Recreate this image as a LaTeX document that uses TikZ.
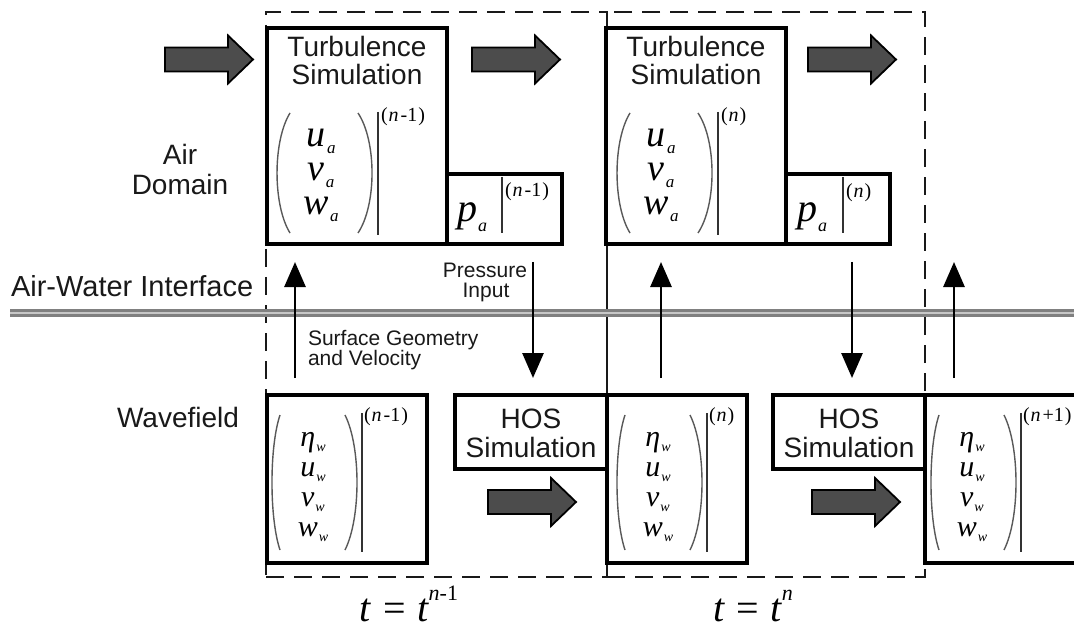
\documentclass[tikz,border=0pt]{standalone}
\usepackage{fontspec}
\setmainfont{Liberation Sans}
\newfontfamily\tms{Liberation Serif}
\usetikzlibrary{arrows.meta}
\newcommand\av[2]{{\fontsize{38}{34}\tms\itshape #1}\kern1.5pt\raisebox{-7pt}{\fontsize{17}{17}\tms\itshape #2}}
\newcommand\pv[2]{{\fontsize{40}{40}\tms\itshape #1}\kern1pt\raisebox{-10pt}{\fontsize{18}{18}\tms\itshape #2}}
\newcommand\wv[2]{{\fontsize{30}{30}\tms\itshape #1}\kern1pt\raisebox{-5pt}{\fontsize{14}{14}\tms\itshape #2}}
\newcommand\sups[1]{{\fontsize{20}{20}\tms #1}}
\newcommand\airmat[3]{%
\begin{scope}[xshift=#1pt]
\node[txt,anchor=north,align=center,font=\fontsize{38}{34}\selectfont] (m#2) at (321,129.5) {\av{u}{a}\\\av{v}{a}\\\av{w}{a}};
\draw[paren] (290,113) .. controls (272.7,141) and (272.7,205) .. (290,233);
\draw[paren] (358,113) .. controls (376.7,141) and (376.7,205) .. (358,233);
\draw[vbar] (378,112) -- (378,235);
\node[txt,anchor=west] (s#2) at (381,117) {\sups{#3}};
\end{scope}}
\newcommand\wavmat[3]{%
\begin{scope}[xshift=#1pt]
\node[txt,anchor=north,align=center,font=\fontsize{30}{30}\selectfont] (m#2) at (313,432) {\wv{η}{w}\\\wv{u}{w}\\\wv{v}{w}\\\wv{w}{w}};
\draw[paren] (280,415) .. controls (269.3,447) and (269.3,518) .. (280,550);
\draw[paren] (345,415) .. controls (361,447) and (361,518) .. (345,550);
\draw[vbar] (362,413) -- (362,552);
\node[txt,anchor=west] (s#2) at (364,417) {\sups{#3}};
\end{scope}}
\begin{document}
\begin{tikzpicture}[x=1pt,y=-1pt,
  txt/.style={inner sep=0pt,outer sep=0pt},
  lab/.style={txt,font=\fontsize{28}{28}\selectfont,text=black!90},
  sml/.style={txt,font=\fontsize{21}{21}\selectfont,text=black!90},
  boxn/.style={draw=black,line width=3.2pt,inner sep=0pt,outer sep=0pt,rectangle},
  dashbox/.style={draw=black!90,line width=2.8pt,dash pattern=on 18pt off 10pt,inner sep=0pt,outer sep=0pt,rectangle},
  thinarr/.style={line width=2.8pt,-{Triangle[length=25pt,width=21pt]}},
  paren/.style={line width=1.4pt,draw=black!65},
  vbar/.style={line width=2.2pt,draw=black!80},
  iface/.style={draw=black!50,line width=2.6pt,double=black!22,double distance=2.2pt},
  bigarr/.pic={\filldraw[fill=black!70,draw=black,line width=1.8pt]
     (0,-12) -- (63,-12) -- (63,-24) -- (88,0) -- (63,24) -- (63,12) -- (0,12) -- cycle;}
]
\clip (0,0) rectangle (1074,631);
\fill[white] (0,0) rectangle (1074,631);

% dashed time-step frames
\node[dashbox,minimum width=341pt,minimum height=565pt] (fr1) at (436.5,294.5) {};
\node[dashbox,minimum width=318pt,minimum height=565pt] (fr2) at (766,294.5) {};

% interface line
\coordinate (ifL) at (10,313);
\coordinate (ifR) at (1090,313);
\draw[iface] (ifL) -- (ifR);

% boxes
\node[boxn,minimum width=180pt,minimum height=216pt] (tb1) at (357,136) {};
\node[boxn,minimum width=115pt,minimum height=70pt] (pb1) at (504.5,209) {};
\node[boxn,minimum width=180pt,minimum height=216pt] (tb2) at (696,136) {};
\node[boxn,minimum width=104pt,minimum height=70pt] (pb2) at (838,209) {};
\node[boxn,minimum width=160pt,minimum height=168pt] (wf1) at (347,479) {};
\node[boxn,minimum width=152pt,minimum height=74pt] (hos1) at (531,432) {};
\node[boxn,minimum width=140pt,minimum height=168pt] (wf2) at (677,479) {};
\node[boxn,minimum width=152pt,minimum height=74pt] (hos2) at (849,432) {};
\node[boxn,minimum width=160pt,minimum height=168pt] (wf3) at (1005,479) {};

% big block arrows
\pic at (165,59.5) {bigarr};
\pic at (472,59.5) {bigarr};
\pic at (808,59.5) {bigarr};
\pic at (488,502) {bigarr};
\pic at (812,502) {bigarr};

% side labels
\node[lab,anchor=base] (airA) at (180,165) {Air};
\node[lab,anchor=base] (airB) at (180,195) {Domain};
\node[txt,anchor=base west,font=\fontsize{29}{29}\selectfont,text=black!90] (awi) at (11,297) {Air-Water Interface};
\node[lab,anchor=base] (wavef) at (178,427) {Wavefield};

% box titles
\node[lab,anchor=base] (tt1a) at (357,57) {Turbulence};
\node[lab,anchor=base] (tt1b) at (357,85) {Simulation};
\node[lab,anchor=base] (tt2a) at (696,57) {Turbulence};
\node[lab,anchor=base] (tt2b) at (696,85) {Simulation};
\node[lab,anchor=base] (ht1a) at (531,428) {HOS};
\node[lab,anchor=base] (ht1b) at (531,457) {Simulation};
\node[lab,anchor=base] (ht2a) at (849,428) {HOS};
\node[lab,anchor=base] (ht2b) at (849,457) {Simulation};

% matrices
\airmat{0}{a1}{(\kern1pt\textit{n}\kern2pt-1\kern1pt)}
\airmat{340}{a2}{(\kern1pt\textit{n}\kern1pt)}
\wavmat{0}{w1}{(\kern1pt\textit{n}\kern2pt-1\kern1pt)}
\wavmat{345}{w2}{(\kern1pt\textit{n}\kern1pt)}
\wavmat{659}{w3}{(\kern1pt\textit{n}\kern2pt+1\kern1pt)}

% pressure entries
\node[txt,anchor=base west] (pa1) at (457,222) {\pv{p}{a}};
\draw[vbar] (502,177) -- (502,233);
\node[txt,anchor=west] (ps1) at (505,192) {\sups{(\kern1pt\textit{n}\kern2pt-1\kern1pt)}};
\node[txt,anchor=base west] (pa2) at (797,222) {\pv{p}{a}};
\draw[vbar] (843,177) -- (843,233);
\node[txt,anchor=west] (ps2) at (846,193) {\sups{(\kern1pt\textit{n}\kern1pt)}};

% exchange arrows
\coordinate (xa1) at (295,0);
\coordinate (xd1) at (533,0);
\coordinate (xa2) at (661,0);
\coordinate (xd2) at (852,0);
\coordinate (xa3) at (954,0);
\coordinate (top3) at (954,244);
\draw[thinarr,shorten <=17pt,shorten >=18pt] (wf1.north -| xa1) -- (tb1.south -| xa1);
\draw[thinarr,shorten <=18pt,shorten >=17pt] (pb1.south -| xd1) -- (hos1.north -| xd1);
\draw[thinarr,shorten <=17pt,shorten >=18pt] (wf2.north -| xa2) -- (tb2.south -| xa2);
\draw[thinarr,shorten <=18pt,shorten >=17pt] (pb2.south -| xd2) -- (hos2.north -| xd2);
\draw[thinarr,shorten <=17pt,shorten >=18pt] (wf3.north -| xa3) -- (top3);

% arrow labels
\node[sml,anchor=base] (pr1) at (485,277) {Pressure};
\node[sml,anchor=base] (pr2) at (486,298) {Input};
\node[sml,anchor=base west] (sg1) at (308,345) {Surface Geometry};
\node[sml,anchor=base west] (sg2) at (308,365) {and Velocity};

% time labels
\node[txt,anchor=base] (t1) at (409,621) {\fontsize{40}{40}\tms\itshape t\kern12pt\upshape=\kern12pt\itshape t\raisebox{21pt}{\fontsize{22}{22}\tms\itshape n\upshape -1}};
\node[txt,anchor=base] (t2) at (753,621) {\fontsize{40}{40}\tms\itshape t\kern12pt\upshape=\kern12pt\itshape t\raisebox{21pt}{\fontsize{22}{22}\tms\itshape n}};
\end{tikzpicture}
\end{document}
